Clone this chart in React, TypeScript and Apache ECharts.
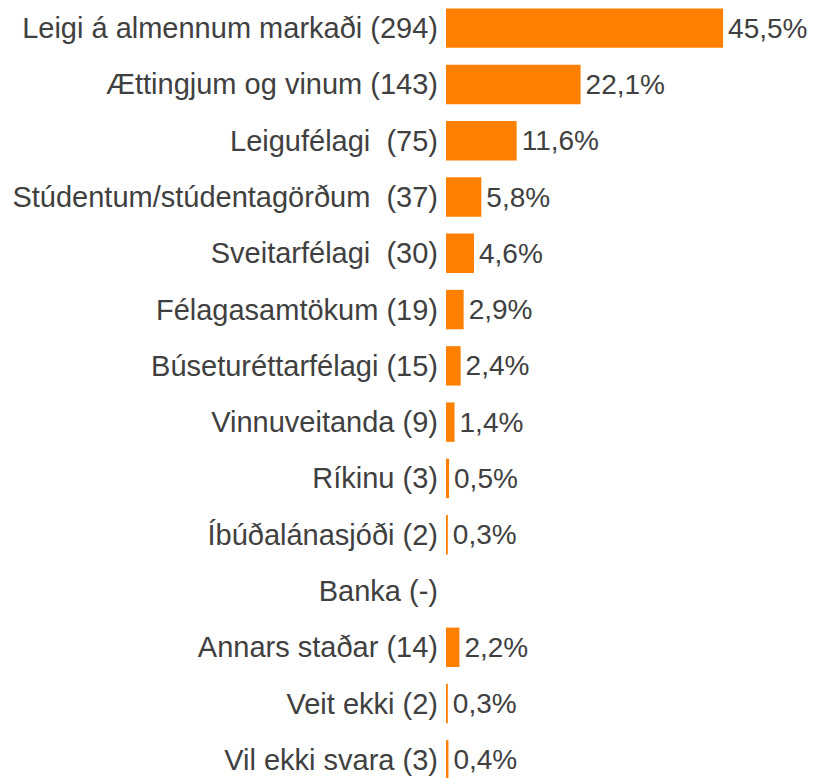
import React, { useEffect, useRef } from "react";
import * as echarts from "echarts";

const categories = [
  "Leigi á almennum markaði (294)",
  "Ættingjum og vinum (143)",
  "Leigufélagi  (75)",
  "Stúdentum/stúdentagörðum  (37)",
  "Sveitarfélagi  (30)",
  "Félagasamtökum (19)",
  "Búseturéttarfélagi (15)",
  "Vinnuveitanda (9)",
  "Ríkinu (3)",
  "Íbúðalánasjóði (2)",
  "Banka (-)",
  "Annars staðar (14)",
  "Veit ekki (2)",
  "Vil ekki svara (3)",
];

const percentages: (number | null)[] = [
  45.5, 22.1, 11.6, 5.8, 4.6, 2.9, 2.4, 1.4, 0.5, 0.3, null, 2.2, 0.3, 0.4,
];

export default function App() {
  const ref = useRef<HTMLDivElement>(null);
  useEffect(() => {
    if (!ref.current) return;
    const chart = echarts.init(ref.current, null, { renderer: "svg" });
    chart.setOption({
      animation: false,
      grid: { left: 446, top: 0, height: 788, right: 62.5 },
      xAxis: { type: "value", min: 0, max: 50, show: false },
      yAxis: {
        type: "category",
        inverse: true,
        data: categories,
        axisLine: { show: false },
        axisTick: { show: false },
        splitLine: { show: false },
        axisLabel: {
          margin: 8,
          color: "#404040",
          fontSize: 29,
          fontFamily: "Liberation Sans, Arial, sans-serif",
        },
      },
      series: [
        {
          type: "bar",
          data: percentages,
          barCategoryGap: "30%",
          itemStyle: { color: "#FF8000" },
          label: {
            show: true,
            position: "right",
            distance: 5,
            color: "#404040",
            fontSize: 28,
            fontFamily: "Liberation Sans, Arial, sans-serif",
            formatter: (p: any) =>
              p.value == null ? "" : p.value.toFixed(1).replace(".", ",") + "%",
          },
        },
      ],
    });
    return () => chart.dispose();
  }, []);
  return (
    <div
      style={{
        position: "absolute",
        left: 0,
        top: 0,
        width: 813,
        height: 778,
        overflow: "hidden",
        background: "#fff",
      }}
    >
      <div ref={ref} style={{ width: 813, height: 800 }} />
    </div>
  );
}
